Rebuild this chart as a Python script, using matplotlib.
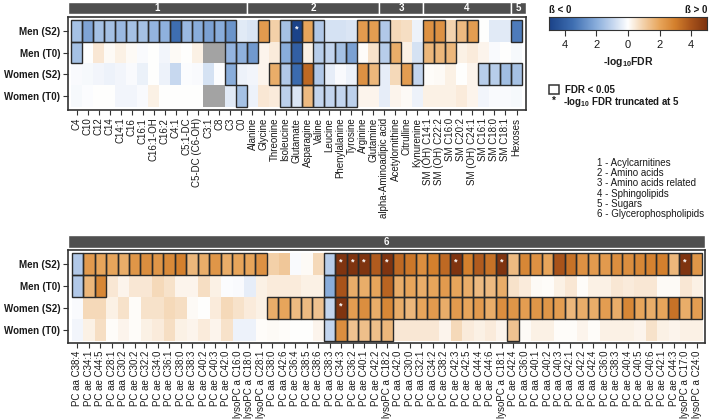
import numpy as np
import matplotlib
matplotlib.use("Agg")
import matplotlib.pyplot as plt
from matplotlib.colors import LinearSegmentedColormap
from matplotlib.patches import Rectangle

plt.rcParams['font.family'] = ['Liberation Sans', 'DejaVu Sans']
plt.rcParams['mathtext.fontset'] = 'custom'
plt.rcParams['mathtext.rm'] = 'Liberation Sans'
plt.rcParams['mathtext.bf'] = 'Liberation Sans:bold'

# ---------------- data ----------------
rows = ["Men (S2)", "Men (T0)", "Women (S2)", "Women (T0)"]

top_labels = ["C4", "C10", "C12", "C14", "C14:1", "C16", "C16:1", "C16:1-OH", "C16:2", "C4:1",
              "C5:1-DC", "C5-DC (C6-OH)", "C3:1", "C8", "C3", "C0",
              "Alanine", "Glycine", "Threonine", "Isoleucine", "Glutamate", "Asparagine", "Valine",
              "Leucine", "Phenylalanine", "Tyrosine", "Arginine", "Glutamine",
              "alpha-Aminoadipic acid", "Acetylornithine", "Citrulline", "Kynurenine",
              "SM (OH) C14:1", "SM (OH) C22:2", "SM C16:0", "SM C20:2", "SM (OH) C24:1",
              "SM C16:1", "SM C18:0", "SM C18:1", "Hexoses"]
top_groups = ["1"] * 16 + ["2"] * 12 + ["3"] * 4 + ["4"] * 8 + ["5"]

nan = np.nan
top_men_s2 = [-1.5, -2.2, -1.5, -1.5, -1.7, -1.5, -1.5, -1.8, -1.9, -3.5, -1.7, -2.0, -2.3, -2.0, -2.6, -0.5,
              -0.6, 2.3, 1.0, -1.5, -5.0, 2.0, -1.3, -0.7, -0.7, -0.6, 2.3, 2.2,
              -1.3, 0.8, 0.7, -0.3,
              2.5, 2.5, 0.9, 1.5, 2.2, 0.0, -0.5, -0.5,
              -3.2]
top_men_t0 = [-1.5, 0.0, 0.5, 0.1, 0.3, 0.1, -0.1, 0.0, -0.2, 0.1, 0.0, 0.3, nan, nan, -1.8, -1.9,
              -2.5, 0.2, 0.4, -2.0, -4.0, 0.3, -1.2, -1.0, -1.5, -2.3, 0.05, 0.6,
              -1.2, 1.8, 0.3, -0.7,
              1.6, 1.6, 1.6, 0.3, 0.4, 0.2, -0.1, 0.0,
              -0.15]
top_women_s2 = [-0.1, -0.15, -0.2, -0.3, -0.2, -0.1, -0.35, 0.0, -0.3, -0.9, -0.05, -0.1, -0.7, -0.05, -2.0, -0.3,
                -0.2, 0.2, 1.8, -1.3, -3.6, 3.5, -1.3, -0.4, -0.1, -0.3, 2.5, 1.6,
                -0.4, 0.8, 2.2, -1.0,
                0.05, 0.1, 0.3, 0.0, 0.2, -1.2, -1.2, -1.6,
                -1.5]
top_women_t0 = [-0.15, -0.05, 0.0, 0.0, -0.2, -0.2, -0.1, 0.3, 0.0, 0.0, 0.0, 0.0, nan, nan, -0.5, -1.5,
                -0.3, 0.5, 0.4, -1.1, -0.6, 1.5, -1.0, -1.0, -1.0, -1.1, 0.2, 0.2,
                -0.4, 0.2, 0.1, -0.3,
                0.3, 0.3, 0.3, 0.4, 0.2, -0.2, -0.1, -0.1,
                -0.15]

top_sig_men_s2 = [1] * 15 + [0, 0, 1, 0, 1, 1, 1, 1, 0, 0, 0, 1, 1] + [1, 0, 0, 0] + [1, 1, 0, 1, 1, 0, 0, 0] + [1]
top_sig_men_t0 = [1] + [0] * 13 + [1, 1] + [1, 0, 0, 1, 1, 0, 1, 1, 1, 1, 0, 0] + [1, 1, 0, 0] + [1, 1, 1, 0, 0, 0, 0, 0] + [0]
top_sig_women_s2 = [0] * 14 + [1, 0] + [0, 0, 1, 1, 1, 1, 1, 0, 0, 0, 1, 1] + [0, 0, 1, 1] + [0, 0, 0, 0, 0, 1, 1, 1] + [1]
top_sig_women_t0 = [0] * 15 + [1] + [0, 0, 0, 1, 1, 1, 1, 1, 1, 1, 0, 0] + [0] * 4 + [0] * 8 + [0]

bot_labels = ["PC aa C38:4", "PC ae C34:1", "PC ae C44:5", "PC aa C28:1", "PC aa C30:2", "PC ae C30:2",
              "PC ae C32:2", "PC ae C34:0", "PC ae C36:1", "PC ae C38:0", "PC ae C38:3", "PC ae C40:2",
              "PC ae C40:3", "PC ae C42:0", "lysoPC a C16:0", "lysoPC a C18:0", "lysoPC a C28:1",
              "PC aa C38:0", "PC aa C42:6", "PC ae C36:4", "PC ae C38:5", "PC ae C38:6", "PC aa C38:3",
              "PC ae C34:3", "PC ae C36:2", "PC ae C40:1", "PC ae C42:2", "lysoPC a C18:2", "PC aa C42:0",
              "PC aa C30:0", "PC aa C32:1", "PC aa C34:2", "PC ae C38:2", "PC ae C42:3", "PC ae C42:5",
              "PC ae C44:4", "PC ae C44:6", "lysoPC a C18:1", "PC ae C42:4", "PC aa C36:0", "PC aa C40:1",
              "PC aa C40:2", "PC aa C40:3", "PC aa C42:1", "PC aa C42:2", "PC aa C42:4", "PC ae C36:0",
              "PC ae C38:3", "PC ae C40:4", "PC ae C40:5", "PC ae C40:6", "PC ae C42:1", "PC ae C44:3",
              "lysoPC a C17:0", "lysoPC a C24:0"]
bot_groups = ["6"] * 55

bot_men_s2 = [-1.3, 2.3, 2.0, 2.0, 1.8, 2.4, 2.6, 2.4, 2.7, 3.0, 1.6, 1.8, 2.4, 1.8,
              2.0, 2.0, 2.5, 1.0, 1.2, -0.1, 0.1, 0.8, -1.2,
              5.0, 5.0, 5.0, 3.8, 5.0, 3.5, 3.2, 2.6, 3.0, 3.5, 5.0, 3.0,
              3.8, 3.3, 5.0, 1.5, 2.8, 2.5, 2.0, 4.0, 3.3, 2.5, 2.3, 2.3, 2.6, 2.6, 2.8, 2.9, 3.0, 1.6, 5.0, 2.4]
bot_men_t0 = [-1.3, 1.6, 2.8, 0.5, 0.2, 0.5, 0.5, 0.8, 0.6, 0.2, 0.2, 0.7, 0.3, -0.05,
              -0.1, -0.4, 0.3, 0.4, 0.4, 0.4, 0.3, 0.3, -2.0,
              4.0, 1.8, 1.8, 2.0, 3.6, 1.8, 2.0, 1.8, 2.0, 2.3, 2.0, 1.8,
              1.5, 1.5, 1.8, 0.6, 0.4, 0.1, 0.05, 0.3, 0.5, 0.05, 0.3, 0.3, 0.5, 0.4, 0.5, 0.5, 0.1, 0.1, 0.5, 0.3]
bot_women_s2 = [-0.1, 0.8, 0.8, 0.3, 0.6, 0.05, 0.6, 0.6, 0.8, 0.7, 0.1, 0.0, 0.4, 0.8,
                0.6, 0.4, 0.3, 1.8, 2.0, 1.5, 1.5, 1.3, -1.0,
                5.0, 2.2, 2.6, 1.8, 2.8, 1.8, 1.6, 2.0, 2.3, 1.8, 2.3, 2.0,
                2.3, 1.8, 2.6, 2.4, 2.2, 2.4, 2.4, 2.2, 1.6, 1.8, 1.8, 2.2, 1.8, 2.8, 2.0, 1.8, 2.0, 3.3, 1.8, 2.2]
bot_women_t0 = [-0.2, 0.3, 0.7, 0.05, 0.2, 0.05, 0.3, 0.4, 0.7, 0.3, 0.2, 0.4, 0.2, 0.6,
                -0.3, -0.3, 0.05, 0.1, 0.05, 0.0, 0.0, 0.2, -1.0,
                2.6, 1.3, 1.4, 1.4, 1.6, 0.5, 0.5, 0.5, 0.5, 0.2, 0.8, 0.4,
                0.3, 0.4, 0.2, 1.3, 0.1, 0.3, 0.3, 0.05, 0.05, 0.2, 0.05, 0.3, 0.3, 0.3, 0.2, 0.6, 0.3, 0.2, 0.3, 0.3]

bot_sig_men_s2 = [1] * 17 + [0] * 5 + [1] * 33
bot_sig_men_t0 = [1] * 3 + [0] * 19 + [1] * 16 + [0] * 17
bot_sig_women_s2 = [0] * 17 + [1] * 38
bot_sig_women_t0 = [0] * 22 + [1] * 6 + [0] * 10 + [1] + [0] * 16

group_names = ["1 - Acylcarnitines", "2 - Amino acids", "3 - Amino acids related",
               "4 - Sphingolipids", "5 - Sugars", "6 - Glycerophospholipids"]

# ---------------- style ----------------
W, H = 709, 419
fig = plt.figure(figsize=(W / 100, H / 100), dpi=100)

cmap = LinearSegmentedColormap.from_list("div", [
    (0.0, '#1b4389'), (0.15, '#3f6fb2'), (0.3, '#8aaedc'), (0.4, '#c3d5ee'),
    (0.5, '#ffffff'), (0.6, '#f3d0a8'), (0.7, '#e8a65c'), (0.8, '#d4802d'),
    (0.9, '#a9541b'), (1.0, '#7f3410')])
cmap.set_bad('#a3a3a3')

EDGE = '#2a2a2a'
TXT = '#1a1a1a'


def px_axes(l, t, r, b):
    return fig.add_axes([l / W, 1 - b / H, (r - l) / W, (b - t) / H])


def heat(frame, cells, vals, sigs, labels):
    l, t, r, b = frame
    cl, ct, cr, cb = cells
    n = len(labels)
    ax = px_axes(l, t, r, b)
    cw = (cr - cl) / n
    rh = (cb - ct) / len(rows)
    ax.set_xlim(-(cl - l) / cw, n + (r - cr) / cw)
    ax.set_ylim(len(rows) + (b - cb) / rh, -(ct - t) / rh)
    data = np.array(vals, dtype=float)
    ax.imshow(data, cmap=cmap, vmin=-5, vmax=5, aspect='auto',
              extent=(0, n, len(rows), 0), interpolation='nearest')
    sig = np.array(sigs)
    for i in range(len(rows)):
        for j in range(n):
            if sig[i, j]:
                ax.add_patch(Rectangle((j, i), 1, 1, fill=False, ec=EDGE, lw=1.0, zorder=3))
            if np.isfinite(data[i, j]) and abs(data[i, j]) >= 5:
                ax.text(j + 0.5, i + 0.42, '*', color='white', ha='center', va='center',
                        fontsize=6.5, fontweight='bold', zorder=4)
    ax.set_xticks(np.arange(n) + 0.5)
    ax.set_xticklabels(labels, rotation=90, fontsize=7, color=TXT)
    ax.set_yticks(np.arange(len(rows)) + 0.5)
    ax.set_yticklabels(rows, fontsize=7, fontweight='bold', color=TXT)
    ax.tick_params(axis='both', length=3.5, width=0.8, color='#333333', pad=2)
    for s in ax.spines.values():
        s.set_color('#333333')
        s.set_linewidth(1.2)
    return ax, (ax.get_xlim())


def strip(frame, xlim, groups):
    l, t, r, b = frame
    ax = px_axes(l, t, r, b)
    ax.set_xlim(*xlim)
    ax.set_ylim(0, 1)
    ax.axis('off')
    uniq = []
    for k, g in enumerate(groups):
        if not uniq or uniq[-1][0] != g:
            uniq.append([g, k, k + 1])
        else:
            uniq[-1][2] = k + 1
    for idx, (g, s, e) in enumerate(uniq):
        x0 = xlim[0] if idx == 0 else s
        x1 = xlim[1] if idx == len(uniq) - 1 else e
        ax.add_patch(Rectangle((x0, 0), x1 - x0, 1, fc='#4f4f4f', ec='white', lw=1.0))
        ax.text((x0 + x1) / 2, 0.5, g, color='white', ha='center', va='center',
                fontsize=7, fontweight='bold')


top_vals = [top_men_s2, top_men_t0, top_women_s2, top_women_t0]
top_sigs = [top_sig_men_s2, top_sig_men_t0, top_sig_women_s2, top_sig_women_t0]
ax1, xl1 = heat((68, 17, 526, 110), (71, 20, 522, 107), top_vals, top_sigs, top_labels)
strip((68, 2, 526, 14), xl1, top_groups)

bot_vals = [bot_men_s2, bot_men_t0, bot_women_s2, bot_women_t0]
bot_sigs = [bot_sig_men_s2, bot_sig_men_t0, bot_sig_women_s2, bot_sig_women_t0]
ax2, xl2 = heat((68, 250, 705, 343), (71.7, 253.3, 702.3, 340.7), bot_vals, bot_sigs, bot_labels)
strip((68, 235, 705, 248), xl2, bot_groups)

# ---------------- colorbar ----------------
cax = px_axes(549, 17, 707, 30)
grad = np.linspace(-5, 5, 400)[None, :]
cax.imshow(grad, cmap=cmap, vmin=-5, vmax=5, aspect='auto', extent=(-5, 5, 0, 1))
cax.set_xlim(-5, 5)
cax.set_yticks([])
cax.set_xticks([-4, -2, 0, 2, 4])
cax.set_xticklabels(['4', '2', '0', '2', '4'], fontsize=8, color=TXT)
cax.tick_params(axis='x', length=4, width=0.8, color='#333333', pad=3)
for s in cax.spines.values():
    s.set_color('#333333')
    s.set_linewidth(0.8)


def ftext(x, y, s, **kw):
    fig.text(x / W, 1 - y / H, s, **kw)


ftext(549, 10, 'ß < 0', fontsize=7, fontweight='bold', ha='left', va='center', color=TXT)
ftext(707, 10, 'ß > 0', fontsize=7, fontweight='bold', ha='right', va='center', color=TXT)
ftext(628, 62, r'-log$_{\mathbf{10}}$FDR', fontsize=7.5, fontweight='bold', ha='center', va='center', color=TXT)

# significance legend
fig.add_artist(Rectangle((549 / W, 1 - 94 / H), 10 / W, 9 / H, fill=False, ec='#333333', lw=1.1,
                         transform=fig.transFigure))
ftext(565, 89.5, 'FDR < 0.05', fontsize=7, fontweight='bold', ha='left', va='center', color=TXT)
ftext(554, 101, '*', fontsize=7, fontweight='bold', ha='center', va='center', color=TXT)
ftext(563, 102, r'-log$_{\mathbf{10}}$ FDR truncated at 5', fontsize=7, fontweight='bold',
      ha='left', va='center', color=TXT)

# group legend
for k, name in enumerate(group_names):
    ftext(597, 163 + k * 10.2, name, fontsize=7, ha='left', va='center', color=TXT)

fig.savefig('out.png', dpi=100)
